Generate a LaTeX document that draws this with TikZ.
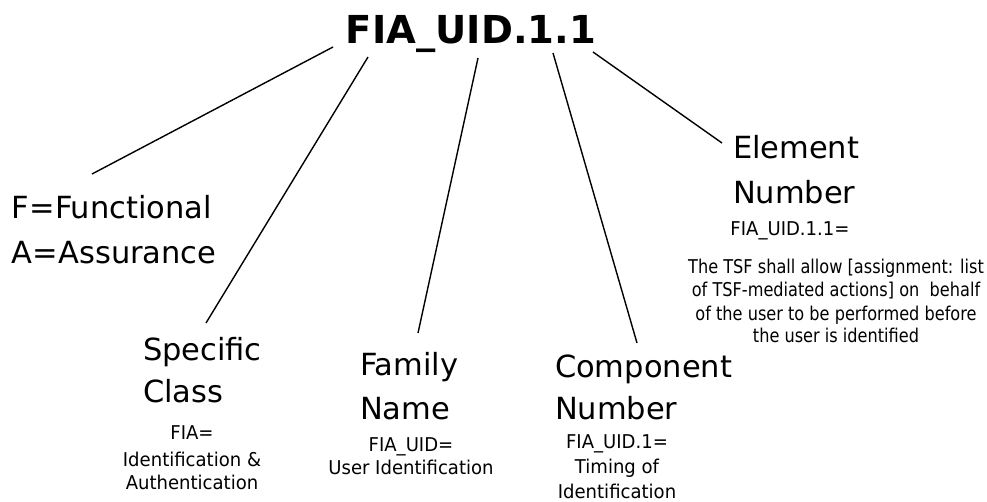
\documentclass[tikz,border=0pt]{standalone}
\usepackage{fontspec}
\setmainfont{DejaVu Sans}
\newfontfamily\labelfont{DejaVu Sans}[FakeStretch=0.95]
\newfontfamily\parafont{DejaVu Sans}[FakeStretch=0.85]
\begin{document}
\begin{tikzpicture}[x=1pt,y=-1pt,
  every node/.style={inner sep=0pt,outer sep=0pt},
  titletext/.style={font=\bfseries\fontsize{38.5}{40}\selectfont,anchor=base},
  bigtext/.style={font=\fontsize{30.5}{36}\selectfont,anchor=base west},
  smalltext/.style={font=\labelfont\fontsize{19}{22}\selectfont,anchor=base},
  paratext/.style={font=\parafont\fontsize{19}{22}\selectfont,anchor=base},
  leader/.style={draw=black,line width=1.4pt}]
\useasboundingbox (0,0) rectangle (987,501);

% identifier
\node[titletext] (title) at (471,43) {FIA\_UID.1.1};

% class type
\node[bigtext] (fa1) at (12,218) {F=Functional};
\node[bigtext] (fa2) at (12,263) {A=Assurance};

% class
\node[bigtext] (cls1) at (143,360) {Specific};
\node[bigtext] (cls2) at (143,402) {Class};
\node[smalltext] (clsA) at (192,439) {FIA=};
\node[smalltext] (clsB) at (192,466) {Identification \&};
\node[smalltext] (clsC) at (192,489) {Authentication};

% family
\node[bigtext] (fam1) at (360,375) {Family};
\node[bigtext] (fam2) at (360,419) {Name};
\node[smalltext] (famA) at (411,451) {FIA\_UID=};
\node[smalltext] (famB) at (411,474) {User Identification};

% component
\node[bigtext] (cmp1) at (555,377) {Component};
\node[bigtext] (cmp2) at (555,419) {Number};
\node[smalltext] (cmpA) at (617,448) {FIA\_UID.1=};
\node[smalltext] (cmpB) at (617,473) {Timing of};
\node[smalltext] (cmpC) at (617,498) {Identification};

% element
\node[bigtext] (elm1) at (733,158) {Element};
\node[bigtext] (elm2) at (733,203) {Number};
\node[smalltext] (elmA) at (790,235) {FIA\_UID.1.1=};
\node[paratext] (elmB) at (836,273) {The TSF shall allow [assignment: list};
\node[paratext] (elmC) at (836,296) {of TSF-mediated actions] on~ behalf};
\node[paratext] (elmD) at (836,320) {of the user to be performed before};
\node[paratext] (elmE) at (836,342) {the user is identified};

% leader line end points
\coordinate (s1) at (333,47);  \coordinate (e1) at (92,174);
\coordinate (s2) at (368,57);  \coordinate (e2) at (206,323);
\coordinate (s3) at (478,58);  \coordinate (e3) at (418,333);
\coordinate (s4) at (553,53);  \coordinate (e4) at (637,343);
\coordinate (s5) at (593,52);  \coordinate (e5) at (722,143);

\draw[leader] (s1) -- (e1);
\draw[leader] (s2) -- (e2);
\draw[leader] (s3) -- (e3);
\draw[leader] (s4) -- (e4);
\draw[leader] (s5) -- (e5);
\end{tikzpicture}
\end{document}
